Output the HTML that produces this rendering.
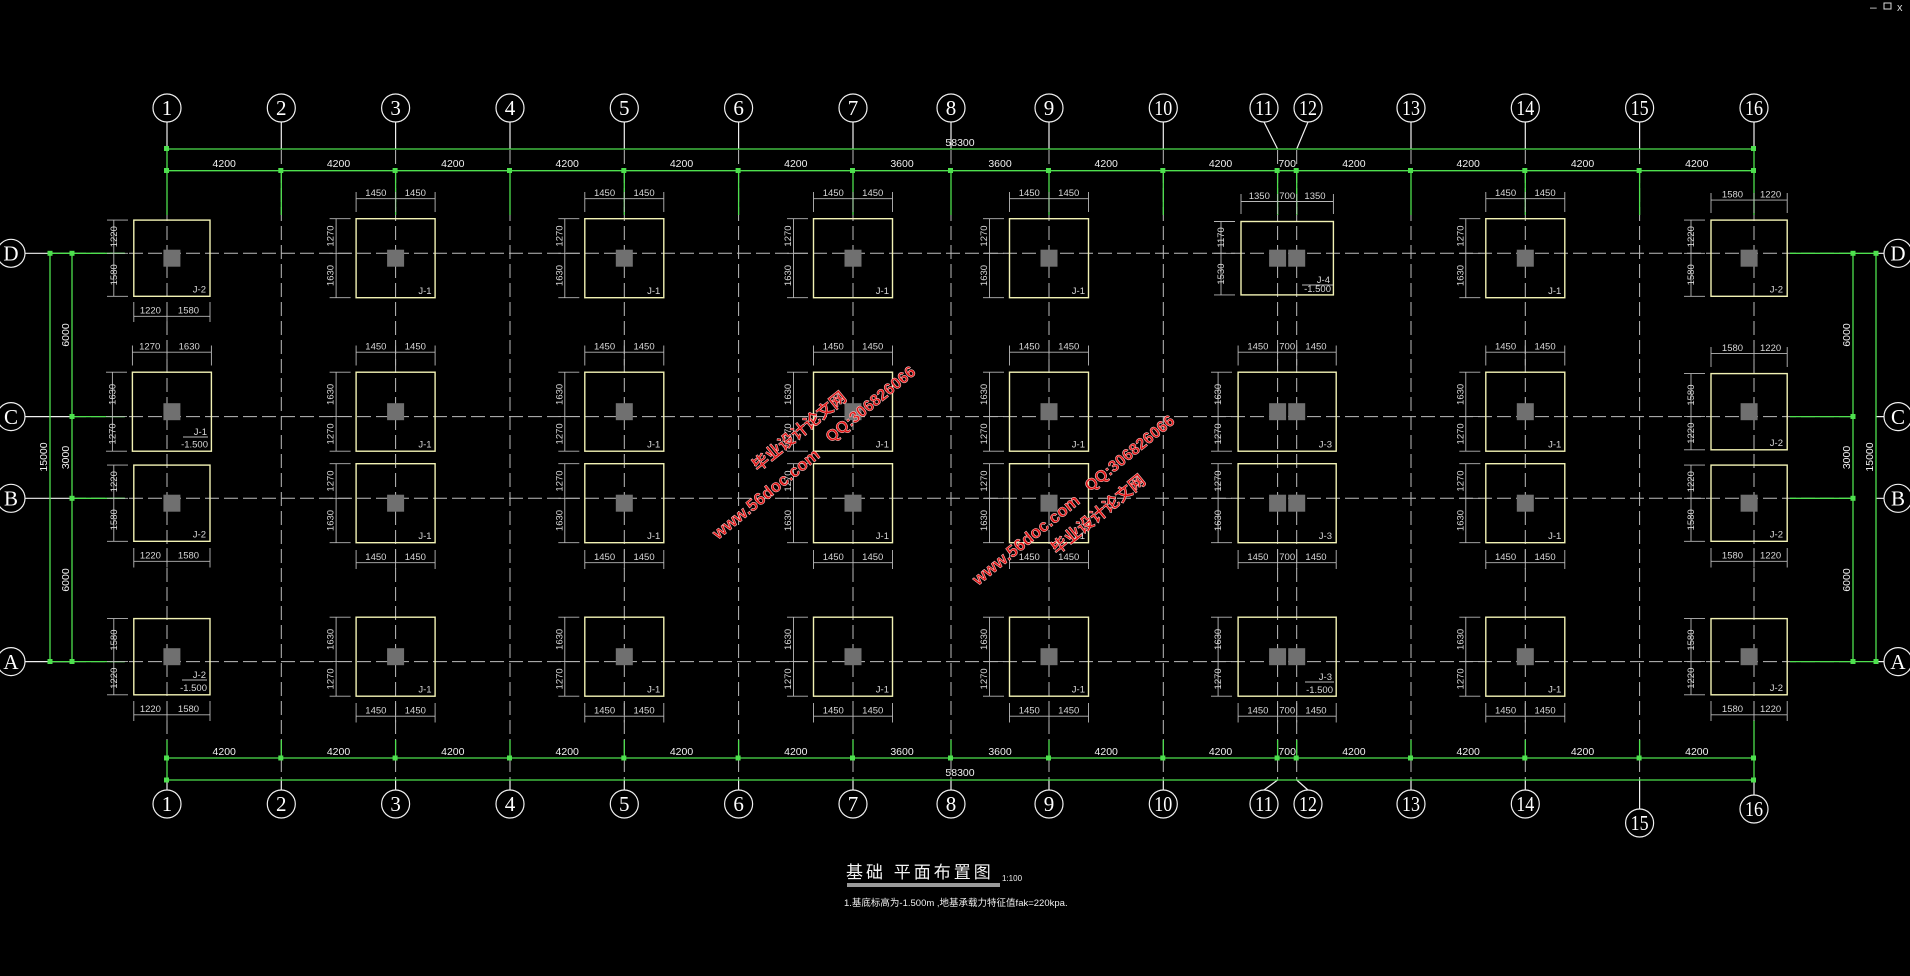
<!DOCTYPE html>
<html><head><meta charset="utf-8">
<style>
html,body{margin:0;padding:0;background:#000;width:1910px;height:976px;overflow:hidden}
svg{display:block}
.f{fill:none;stroke:#f2f2b4;stroke-width:1.4}
.c{fill:#707070}
.d{fill:none;stroke:#b8b8b8;stroke-width:0.9}
.t{fill:#d8d8d8;font-family:"Liberation Sans",sans-serif;font-size:9.5px;text-anchor:middle}
.l{fill:#d8d8d8;font-family:"Liberation Sans",sans-serif;font-size:9.5px;text-anchor:end}
.g{fill:none;stroke:#4ee04e;stroke-width:1.3}
.w{fill:none;stroke:#f0f0f0;stroke-width:1.2}
.dash{fill:none;stroke:#bdbdbd;stroke-width:1;stroke-dasharray:14 5}
.ax{fill:none;stroke:#f0f0f0;stroke-width:1.2}
.at{fill:#fff;font-family:"Liberation Serif",serif;font-size:21px;text-anchor:middle}
.dt{fill:#f0f0f0;font-family:"Liberation Sans",sans-serif;font-size:10.5px;text-anchor:middle}
.wm{fill:#e01515;stroke:#ffd0d0;stroke-width:0.5;font-family:"Liberation Sans","Noto Sans CJK SC",sans-serif;font-weight:bold}
</style></head><body>
<svg width="1910" height="976" viewBox="0 0 1910 976" xmlns="http://www.w3.org/2000/svg">
<!-- window icons -->
<text x="1870" y="11" fill="#ddd" font-size="12" font-family="Liberation Sans,sans-serif">–</text>
<rect x="1884" y="3" width="7" height="6" fill="none" stroke="#ddd" stroke-width="1"/>
<text x="1897" y="11" fill="#ddd" font-size="11" font-family="Liberation Sans,sans-serif">x</text>

<!-- vertical axis dashed lines -->
<path class="dash" d="M167 150V780M281.3 150V780M395.6 150V780M510 150V780M624.3 150V780M738.6 150V780M853 150V780M951 150V780M1049 150V780M1163.3 150V780M1277.6 150V780M1296.7 150V780M1411 150V780M1525.3 150V780M1639.6 150V780M1754 150V780"/>
<!-- horizontal axis dashed lines -->
<path class="dash" d="M72 253.3H1853M72 416.6H1853M72 498.3H1853M72 661.6H1853"/>

<!-- white leaders top/bottom -->
<path class="w" d="M167 122V149M281.3 122V149M395.6 122V149M510 122V149M624.3 122V149M738.6 122V149M853 122V149M951 122V149M1049 122V149M1163.3 122V149M1264 122L1277.6 149M1308 122L1296.7 149M1411 122V149M1525.3 122V149M1639.6 122V149M1754 122V149"/>
<path class="w" d="M167 780V790M281.3 780V790M395.6 780V790M510 780V790M624.3 780V790M738.6 780V790M853 780V790M951 780V790M1049 780V790M1163.3 780V790M1277.6 780L1264 790M1296.7 780L1308 790M1411 780V790M1525.3 780V790M1639.6 780V809M1754 780V795"/>
<path class="w" d="M25 253.3H72M25 416.6H72M25 498.3H72M25 661.6H72M1876 253.3H1884M1876 416.6H1884M1876 498.3H1884M1876 661.6H1884"/>

<!-- green extension lines vertical -->
<path class="g" d="M167 149V215M281.3 171V215M395.6 171V215M510 171V215M624.3 171V215M738.6 171V215M853 171V215M951 171V215M1049 171V215M1163.3 171V215M1277.6 171V215M1296.7 171V215M1411 171V215M1525.3 171V215M1639.6 171V215M1754 149V215"/>
<path class="g" d="M167 740V780M281.3 740V758M395.6 740V758M510 740V758M624.3 740V758M738.6 740V758M853 740V758M951 740V758M1049 740V758M1163.3 740V758M1277.6 740V758M1296.7 740V758M1411 740V758M1525.3 740V758M1639.6 740V758M1754 720V780"/>
<!-- green horizontal dims -->
<path class="g" d="M167 149H1754M167 170.7H1754M167 758H1754M167 780H1754"/>
<path class="g" d="M50 253.3V661.6M72 253.3V661.6M50 253.3H125M72 416.6H125M72 498.3H125M50 661.6H125"/>
<path class="g" d="M1853 253.3V661.6M1876 253.3V661.6M1790 253.3H1876M1790 416.6H1853M1790 498.3H1853M1790 661.6H1876"/>
<!-- green ticks -->
<g fill="#4ee04e">
<rect x="164" y="146" width="5" height="5"/><rect x="1751" y="146" width="5" height="5"/>
<rect x="164" y="168" width="5" height="5"/><rect x="278.3" y="168" width="5" height="5"/><rect x="392.6" y="168" width="5" height="5"/><rect x="507" y="168" width="5" height="5"/><rect x="621.3" y="168" width="5" height="5"/><rect x="735.6" y="168" width="5" height="5"/><rect x="850" y="168" width="5" height="5"/><rect x="948" y="168" width="5" height="5"/><rect x="1046" y="168" width="5" height="5"/><rect x="1160.3" y="168" width="5" height="5"/><rect x="1274.6" y="168" width="5" height="5"/><rect x="1293.7" y="168" width="5" height="5"/><rect x="1408" y="168" width="5" height="5"/><rect x="1522.3" y="168" width="5" height="5"/><rect x="1636.6" y="168" width="5" height="5"/><rect x="1751" y="168" width="5" height="5"/>
<rect x="164" y="755.5" width="5" height="5"/><rect x="278.3" y="755.5" width="5" height="5"/><rect x="392.6" y="755.5" width="5" height="5"/><rect x="507" y="755.5" width="5" height="5"/><rect x="621.3" y="755.5" width="5" height="5"/><rect x="735.6" y="755.5" width="5" height="5"/><rect x="850" y="755.5" width="5" height="5"/><rect x="948" y="755.5" width="5" height="5"/><rect x="1046" y="755.5" width="5" height="5"/><rect x="1160.3" y="755.5" width="5" height="5"/><rect x="1274.6" y="755.5" width="5" height="5"/><rect x="1293.7" y="755.5" width="5" height="5"/><rect x="1408" y="755.5" width="5" height="5"/><rect x="1522.3" y="755.5" width="5" height="5"/><rect x="1636.6" y="755.5" width="5" height="5"/><rect x="1751" y="755.5" width="5" height="5"/>
<rect x="164" y="777.5" width="5" height="5"/><rect x="1751" y="777.5" width="5" height="5"/>
<rect x="47.5" y="250.8" width="5" height="5"/><rect x="47.5" y="659" width="5" height="5"/>
<rect x="69.5" y="250.8" width="5" height="5"/><rect x="69.5" y="414" width="5" height="5"/><rect x="69.5" y="495.8" width="5" height="5"/><rect x="69.5" y="659" width="5" height="5"/>
<rect x="1850.5" y="250.8" width="5" height="5"/><rect x="1850.5" y="414" width="5" height="5"/><rect x="1850.5" y="495.8" width="5" height="5"/><rect x="1850.5" y="659" width="5" height="5"/>
<rect x="1873.5" y="250.8" width="5" height="5"/><rect x="1873.5" y="659" width="5" height="5"/>
</g>

<!-- dimension texts -->
<text class="dt" x="960" y="146">58300</text>
<g class="dt">
<text x="224.2" y="167">4200</text><text x="338.5" y="167">4200</text><text x="452.8" y="167">4200</text><text x="567.2" y="167">4200</text><text x="681.5" y="167">4200</text><text x="795.8" y="167">4200</text><text x="902" y="167">3600</text><text x="1000" y="167">3600</text><text x="1106.2" y="167">4200</text><text x="1220.5" y="167">4200</text><text x="1287.2" y="167">700</text><text x="1353.9" y="167">4200</text><text x="1468.2" y="167">4200</text><text x="1582.5" y="167">4200</text><text x="1696.8" y="167">4200</text>
<text x="224.2" y="755">4200</text><text x="338.5" y="755">4200</text><text x="452.8" y="755">4200</text><text x="567.2" y="755">4200</text><text x="681.5" y="755">4200</text><text x="795.8" y="755">4200</text><text x="902" y="755">3600</text><text x="1000" y="755">3600</text><text x="1106.2" y="755">4200</text><text x="1220.5" y="755">4200</text><text x="1287.2" y="755">700</text><text x="1353.9" y="755">4200</text><text x="1468.2" y="755">4200</text><text x="1582.5" y="755">4200</text><text x="1696.8" y="755">4200</text>
</g>
<text class="dt" x="960" y="776">58300</text>
<g class="dt">
<text transform="translate(47,457) rotate(-90)">15000</text>
<text transform="translate(69,335) rotate(-90)">6000</text>
<text transform="translate(69,457.5) rotate(-90)">3000</text>
<text transform="translate(69,580) rotate(-90)">6000</text>
<text transform="translate(1873,457) rotate(-90)">15000</text>
<text transform="translate(1850,335) rotate(-90)">6000</text>
<text transform="translate(1850,457.5) rotate(-90)">3000</text>
<text transform="translate(1850,580) rotate(-90)">6000</text>
</g>

<!-- axis circles -->
<g class="ax">
<circle cx="167" cy="108" r="14"/><circle cx="281.3" cy="108" r="14"/><circle cx="395.6" cy="108" r="14"/><circle cx="510" cy="108" r="14"/><circle cx="624.3" cy="108" r="14"/><circle cx="738.6" cy="108" r="14"/><circle cx="853" cy="108" r="14"/><circle cx="951" cy="108" r="14"/><circle cx="1049" cy="108" r="14"/><circle cx="1163.3" cy="108" r="14"/><circle cx="1264" cy="108" r="14"/><circle cx="1308" cy="108" r="14"/><circle cx="1411" cy="108" r="14"/><circle cx="1525.3" cy="108" r="14"/><circle cx="1639.6" cy="108" r="14"/><circle cx="1754" cy="108" r="14"/>
<circle cx="167" cy="804" r="14"/><circle cx="281.3" cy="804" r="14"/><circle cx="395.6" cy="804" r="14"/><circle cx="510" cy="804" r="14"/><circle cx="624.3" cy="804" r="14"/><circle cx="738.6" cy="804" r="14"/><circle cx="853" cy="804" r="14"/><circle cx="951" cy="804" r="14"/><circle cx="1049" cy="804" r="14"/><circle cx="1163.3" cy="804" r="14"/><circle cx="1264" cy="804" r="14"/><circle cx="1308" cy="804" r="14"/><circle cx="1411" cy="804" r="14"/><circle cx="1525.3" cy="804" r="14"/><circle cx="1639.6" cy="823" r="14"/><circle cx="1754" cy="809" r="14"/>
<circle cx="11" cy="253.3" r="14"/><circle cx="11" cy="416.6" r="14"/><circle cx="11" cy="498.3" r="14"/><circle cx="11" cy="661.6" r="14"/>
<circle cx="1898" cy="253.3" r="14"/><circle cx="1898" cy="416.6" r="14"/><circle cx="1898" cy="498.3" r="14"/><circle cx="1898" cy="661.6" r="14"/>
</g>
<g class="at">
<text x="167" y="115">1</text><text x="281.3" y="115">2</text><text x="395.6" y="115">3</text><text x="510" y="115">4</text><text x="624.3" y="115">5</text><text x="738.6" y="115">6</text><text x="853" y="115">7</text><text x="951" y="115">8</text><text x="1049" y="115">9</text><text x="1163.3" y="115" textLength="18" lengthAdjust="spacingAndGlyphs">10</text><text x="1264" y="115" textLength="18" lengthAdjust="spacingAndGlyphs">11</text><text x="1308" y="115" textLength="18" lengthAdjust="spacingAndGlyphs">12</text><text x="1411" y="115" textLength="18" lengthAdjust="spacingAndGlyphs">13</text><text x="1525.3" y="115" textLength="18" lengthAdjust="spacingAndGlyphs">14</text><text x="1639.6" y="115" textLength="18" lengthAdjust="spacingAndGlyphs">15</text><text x="1754" y="115" textLength="18" lengthAdjust="spacingAndGlyphs">16</text>
<text x="167" y="811">1</text><text x="281.3" y="811">2</text><text x="395.6" y="811">3</text><text x="510" y="811">4</text><text x="624.3" y="811">5</text><text x="738.6" y="811">6</text><text x="853" y="811">7</text><text x="951" y="811">8</text><text x="1049" y="811">9</text><text x="1163.3" y="811" textLength="18" lengthAdjust="spacingAndGlyphs">10</text><text x="1264" y="811" textLength="18" lengthAdjust="spacingAndGlyphs">11</text><text x="1308" y="811" textLength="18" lengthAdjust="spacingAndGlyphs">12</text><text x="1411" y="811" textLength="18" lengthAdjust="spacingAndGlyphs">13</text><text x="1525.3" y="811" textLength="18" lengthAdjust="spacingAndGlyphs">14</text><text x="1639.6" y="830" textLength="18" lengthAdjust="spacingAndGlyphs">15</text><text x="1754" y="816" textLength="18" lengthAdjust="spacingAndGlyphs">16</text>
<text x="11" y="260.5">D</text><text x="11" y="423.8">C</text><text x="11" y="505.5">B</text><text x="11" y="668.8">A</text>
<text x="1898" y="260.5">D</text><text x="1898" y="423.8">C</text><text x="1898" y="505.5">B</text><text x="1898" y="668.8">A</text>
</g>

<!-- standard footing columns -->
<g id="s3" transform="translate(395.6,0)">
<rect class="f" x="-39.5" y="218.7" width="79" height="79"/><rect class="c" x="-8.5" y="249.7" width="17" height="17"/>
<path class="d" d="M-39.5 198.7H39.5M-39.5 192V212M0 192V212M39.5 192V212M-59.5 218.7V297.7M-66 218.7H-45M-66 253.3H-45M-66 297.7H-45"/>
<text class="t" x="-19.75" y="196">1450</text><text class="t" x="19.75" y="196">1450</text>
<text class="t" transform="translate(-62,236) rotate(-90)">1270</text><text class="t" transform="translate(-62,275.5) rotate(-90)">1630</text>
<text class="l" x="36" y="294">J-1</text>
<rect class="f" x="-39.5" y="372.2" width="79" height="79"/><rect class="c" x="-8.5" y="403.2" width="17" height="17"/>
<path class="d" d="M-39.5 352.2H39.5M-39.5 345.5V365.5M0 345.5V365.5M39.5 345.5V365.5M-59.5 372.2V451.2M-66 372.2H-45M-66 416.6H-45M-66 451.2H-45"/>
<text class="t" x="-19.75" y="349.5">1450</text><text class="t" x="19.75" y="349.5">1450</text>
<text class="t" transform="translate(-62,394.4) rotate(-90)">1630</text><text class="t" transform="translate(-62,433.9) rotate(-90)">1270</text>
<text class="l" x="36" y="447.5">J-1</text>
<rect class="f" x="-39.5" y="463.7" width="79" height="79"/><rect class="c" x="-8.5" y="494.7" width="17" height="17"/>
<path class="d" d="M-39.5 562.7H39.5M-39.5 550V569M0 550V569M39.5 550V569M-59.5 463.7V542.7M-66 463.7H-45M-66 498.3H-45M-66 542.7H-45"/>
<text class="t" x="-19.75" y="560">1450</text><text class="t" x="19.75" y="560">1450</text>
<text class="t" transform="translate(-62,481) rotate(-90)">1270</text><text class="t" transform="translate(-62,520.5) rotate(-90)">1630</text>
<text class="l" x="36" y="539">J-1</text>
<rect class="f" x="-39.5" y="617.2" width="79" height="79"/><rect class="c" x="-8.5" y="648.2" width="17" height="17"/>
<path class="d" d="M-39.5 716.2H39.5M-39.5 703V722.5M0 703V722.5M39.5 703V722.5M-59.5 617.2V696.2M-66 617.2H-45M-66 661.6H-45M-66 696.2H-45"/>
<text class="t" x="-19.75" y="713.5">1450</text><text class="t" x="19.75" y="713.5">1450</text>
<text class="t" transform="translate(-62,639.4) rotate(-90)">1630</text><text class="t" transform="translate(-62,678.9) rotate(-90)">1270</text>
<text class="l" x="36" y="692.5">J-1</text>
</g>
<g transform="translate(624.3,0)">
<rect class="f" x="-39.5" y="218.7" width="79" height="79"/><rect class="c" x="-8.5" y="249.7" width="17" height="17"/>
<path class="d" d="M-39.5 198.7H39.5M-39.5 192V212M0 192V212M39.5 192V212M-59.5 218.7V297.7M-66 218.7H-45M-66 253.3H-45M-66 297.7H-45"/>
<text class="t" x="-19.75" y="196">1450</text><text class="t" x="19.75" y="196">1450</text>
<text class="t" transform="translate(-62,236) rotate(-90)">1270</text><text class="t" transform="translate(-62,275.5) rotate(-90)">1630</text>
<text class="l" x="36" y="294">J-1</text>
<rect class="f" x="-39.5" y="372.2" width="79" height="79"/><rect class="c" x="-8.5" y="403.2" width="17" height="17"/>
<path class="d" d="M-39.5 352.2H39.5M-39.5 345.5V365.5M0 345.5V365.5M39.5 345.5V365.5M-59.5 372.2V451.2M-66 372.2H-45M-66 416.6H-45M-66 451.2H-45"/>
<text class="t" x="-19.75" y="349.5">1450</text><text class="t" x="19.75" y="349.5">1450</text>
<text class="t" transform="translate(-62,394.4) rotate(-90)">1630</text><text class="t" transform="translate(-62,433.9) rotate(-90)">1270</text>
<text class="l" x="36" y="447.5">J-1</text>
<rect class="f" x="-39.5" y="463.7" width="79" height="79"/><rect class="c" x="-8.5" y="494.7" width="17" height="17"/>
<path class="d" d="M-39.5 562.7H39.5M-39.5 550V569M0 550V569M39.5 550V569M-59.5 463.7V542.7M-66 463.7H-45M-66 498.3H-45M-66 542.7H-45"/>
<text class="t" x="-19.75" y="560">1450</text><text class="t" x="19.75" y="560">1450</text>
<text class="t" transform="translate(-62,481) rotate(-90)">1270</text><text class="t" transform="translate(-62,520.5) rotate(-90)">1630</text>
<text class="l" x="36" y="539">J-1</text>
<rect class="f" x="-39.5" y="617.2" width="79" height="79"/><rect class="c" x="-8.5" y="648.2" width="17" height="17"/>
<path class="d" d="M-39.5 716.2H39.5M-39.5 703V722.5M0 703V722.5M39.5 703V722.5M-59.5 617.2V696.2M-66 617.2H-45M-66 661.6H-45M-66 696.2H-45"/>
<text class="t" x="-19.75" y="713.5">1450</text><text class="t" x="19.75" y="713.5">1450</text>
<text class="t" transform="translate(-62,639.4) rotate(-90)">1630</text><text class="t" transform="translate(-62,678.9) rotate(-90)">1270</text>
<text class="l" x="36" y="692.5">J-1</text>
</g>
<g transform="translate(853,0)">
<rect class="f" x="-39.5" y="218.7" width="79" height="79"/><rect class="c" x="-8.5" y="249.7" width="17" height="17"/>
<path class="d" d="M-39.5 198.7H39.5M-39.5 192V212M0 192V212M39.5 192V212M-59.5 218.7V297.7M-66 218.7H-45M-66 253.3H-45M-66 297.7H-45"/>
<text class="t" x="-19.75" y="196">1450</text><text class="t" x="19.75" y="196">1450</text>
<text class="t" transform="translate(-62,236) rotate(-90)">1270</text><text class="t" transform="translate(-62,275.5) rotate(-90)">1630</text>
<text class="l" x="36" y="294">J-1</text>
<rect class="f" x="-39.5" y="372.2" width="79" height="79"/><rect class="c" x="-8.5" y="403.2" width="17" height="17"/>
<path class="d" d="M-39.5 352.2H39.5M-39.5 345.5V365.5M0 345.5V365.5M39.5 345.5V365.5M-59.5 372.2V451.2M-66 372.2H-45M-66 416.6H-45M-66 451.2H-45"/>
<text class="t" x="-19.75" y="349.5">1450</text><text class="t" x="19.75" y="349.5">1450</text>
<text class="t" transform="translate(-62,394.4) rotate(-90)">1630</text><text class="t" transform="translate(-62,433.9) rotate(-90)">1270</text>
<text class="l" x="36" y="447.5">J-1</text>
<rect class="f" x="-39.5" y="463.7" width="79" height="79"/><rect class="c" x="-8.5" y="494.7" width="17" height="17"/>
<path class="d" d="M-39.5 562.7H39.5M-39.5 550V569M0 550V569M39.5 550V569M-59.5 463.7V542.7M-66 463.7H-45M-66 498.3H-45M-66 542.7H-45"/>
<text class="t" x="-19.75" y="560">1450</text><text class="t" x="19.75" y="560">1450</text>
<text class="t" transform="translate(-62,481) rotate(-90)">1270</text><text class="t" transform="translate(-62,520.5) rotate(-90)">1630</text>
<text class="l" x="36" y="539">J-1</text>
<rect class="f" x="-39.5" y="617.2" width="79" height="79"/><rect class="c" x="-8.5" y="648.2" width="17" height="17"/>
<path class="d" d="M-39.5 716.2H39.5M-39.5 703V722.5M0 703V722.5M39.5 703V722.5M-59.5 617.2V696.2M-66 617.2H-45M-66 661.6H-45M-66 696.2H-45"/>
<text class="t" x="-19.75" y="713.5">1450</text><text class="t" x="19.75" y="713.5">1450</text>
<text class="t" transform="translate(-62,639.4) rotate(-90)">1630</text><text class="t" transform="translate(-62,678.9) rotate(-90)">1270</text>
<text class="l" x="36" y="692.5">J-1</text>
</g>
<g transform="translate(1049,0)">
<rect class="f" x="-39.5" y="218.7" width="79" height="79"/><rect class="c" x="-8.5" y="249.7" width="17" height="17"/>
<path class="d" d="M-39.5 198.7H39.5M-39.5 192V212M0 192V212M39.5 192V212M-59.5 218.7V297.7M-66 218.7H-45M-66 253.3H-45M-66 297.7H-45"/>
<text class="t" x="-19.75" y="196">1450</text><text class="t" x="19.75" y="196">1450</text>
<text class="t" transform="translate(-62,236) rotate(-90)">1270</text><text class="t" transform="translate(-62,275.5) rotate(-90)">1630</text>
<text class="l" x="36" y="294">J-1</text>
<rect class="f" x="-39.5" y="372.2" width="79" height="79"/><rect class="c" x="-8.5" y="403.2" width="17" height="17"/>
<path class="d" d="M-39.5 352.2H39.5M-39.5 345.5V365.5M0 345.5V365.5M39.5 345.5V365.5M-59.5 372.2V451.2M-66 372.2H-45M-66 416.6H-45M-66 451.2H-45"/>
<text class="t" x="-19.75" y="349.5">1450</text><text class="t" x="19.75" y="349.5">1450</text>
<text class="t" transform="translate(-62,394.4) rotate(-90)">1630</text><text class="t" transform="translate(-62,433.9) rotate(-90)">1270</text>
<text class="l" x="36" y="447.5">J-1</text>
<rect class="f" x="-39.5" y="463.7" width="79" height="79"/><rect class="c" x="-8.5" y="494.7" width="17" height="17"/>
<path class="d" d="M-39.5 562.7H39.5M-39.5 550V569M0 550V569M39.5 550V569M-59.5 463.7V542.7M-66 463.7H-45M-66 498.3H-45M-66 542.7H-45"/>
<text class="t" x="-19.75" y="560">1450</text><text class="t" x="19.75" y="560">1450</text>
<text class="t" transform="translate(-62,481) rotate(-90)">1270</text><text class="t" transform="translate(-62,520.5) rotate(-90)">1630</text>
<text class="l" x="36" y="539">J-1</text>
<rect class="f" x="-39.5" y="617.2" width="79" height="79"/><rect class="c" x="-8.5" y="648.2" width="17" height="17"/>
<path class="d" d="M-39.5 716.2H39.5M-39.5 703V722.5M0 703V722.5M39.5 703V722.5M-59.5 617.2V696.2M-66 617.2H-45M-66 661.6H-45M-66 696.2H-45"/>
<text class="t" x="-19.75" y="713.5">1450</text><text class="t" x="19.75" y="713.5">1450</text>
<text class="t" transform="translate(-62,639.4) rotate(-90)">1630</text><text class="t" transform="translate(-62,678.9) rotate(-90)">1270</text>
<text class="l" x="36" y="692.5">J-1</text>
</g>
<g transform="translate(1525.3,0)">
<rect class="f" x="-39.5" y="218.7" width="79" height="79"/><rect class="c" x="-8.5" y="249.7" width="17" height="17"/>
<path class="d" d="M-39.5 198.7H39.5M-39.5 192V212M0 192V212M39.5 192V212M-59.5 218.7V297.7M-66 218.7H-45M-66 253.3H-45M-66 297.7H-45"/>
<text class="t" x="-19.75" y="196">1450</text><text class="t" x="19.75" y="196">1450</text>
<text class="t" transform="translate(-62,236) rotate(-90)">1270</text><text class="t" transform="translate(-62,275.5) rotate(-90)">1630</text>
<text class="l" x="36" y="294">J-1</text>
<rect class="f" x="-39.5" y="372.2" width="79" height="79"/><rect class="c" x="-8.5" y="403.2" width="17" height="17"/>
<path class="d" d="M-39.5 352.2H39.5M-39.5 345.5V365.5M0 345.5V365.5M39.5 345.5V365.5M-59.5 372.2V451.2M-66 372.2H-45M-66 416.6H-45M-66 451.2H-45"/>
<text class="t" x="-19.75" y="349.5">1450</text><text class="t" x="19.75" y="349.5">1450</text>
<text class="t" transform="translate(-62,394.4) rotate(-90)">1630</text><text class="t" transform="translate(-62,433.9) rotate(-90)">1270</text>
<text class="l" x="36" y="447.5">J-1</text>
<rect class="f" x="-39.5" y="463.7" width="79" height="79"/><rect class="c" x="-8.5" y="494.7" width="17" height="17"/>
<path class="d" d="M-39.5 562.7H39.5M-39.5 550V569M0 550V569M39.5 550V569M-59.5 463.7V542.7M-66 463.7H-45M-66 498.3H-45M-66 542.7H-45"/>
<text class="t" x="-19.75" y="560">1450</text><text class="t" x="19.75" y="560">1450</text>
<text class="t" transform="translate(-62,481) rotate(-90)">1270</text><text class="t" transform="translate(-62,520.5) rotate(-90)">1630</text>
<text class="l" x="36" y="539">J-1</text>
<rect class="f" x="-39.5" y="617.2" width="79" height="79"/><rect class="c" x="-8.5" y="648.2" width="17" height="17"/>
<path class="d" d="M-39.5 716.2H39.5M-39.5 703V722.5M0 703V722.5M39.5 703V722.5M-59.5 617.2V696.2M-66 617.2H-45M-66 661.6H-45M-66 696.2H-45"/>
<text class="t" x="-19.75" y="713.5">1450</text><text class="t" x="19.75" y="713.5">1450</text>
<text class="t" transform="translate(-62,639.4) rotate(-90)">1630</text><text class="t" transform="translate(-62,678.9) rotate(-90)">1270</text>
<text class="l" x="36" y="692.5">J-1</text>
</g>

<!-- axis 1 footings -->
<rect class="f" x="133.8" y="220.1" width="76.2" height="76.2"/><rect class="c" x="163.4" y="249.7" width="17" height="17"/>
<path class="d" d="M133.8 316.3H210M133.8 302V322M167 302V322M210 302V322M113.8 220.1V296.3M107 220.1H128M107 253.3H128M107 296.3H128"/>
<text class="t" x="150.4" y="313.5">1220</text><text class="t" x="188.5" y="313.5">1580</text>
<text class="t" transform="translate(117,236.7) rotate(-90)">1220</text><text class="t" transform="translate(117,274.8) rotate(-90)">1580</text>
<text class="l" x="206" y="292.5">J-2</text>

<rect class="f" x="132.4" y="372.2" width="79" height="79"/><rect class="c" x="163.4" y="403.2" width="17" height="17"/>
<path class="d" d="M132.4 352.2H211.4M132.4 345.5V365.5M167 345.5V365.5M211.4 345.5V365.5M112.4 372.2V451.2M106 372.2H127M106 416.6H127M106 451.2H127M183 437H208"/>
<text class="t" x="149.7" y="349.5">1270</text><text class="t" x="189.2" y="349.5">1630</text>
<text class="t" transform="translate(115.5,394.4) rotate(-90)">1630</text><text class="t" transform="translate(115.5,433.9) rotate(-90)">1270</text>
<text class="l" x="207" y="435">J-1</text><text class="l" x="208" y="447.5">-1.500</text>

<rect class="f" x="133.8" y="465.1" width="76.2" height="76.2"/><rect class="c" x="163.4" y="494.7" width="17" height="17"/>
<path class="d" d="M133.8 561.3H210M133.8 548V567.5M167 548V567.5M210 548V567.5M113.8 465.1V541.3M107 465.1H128M107 498.3H128M107 541.3H128"/>
<text class="t" x="150.4" y="558.5">1220</text><text class="t" x="188.5" y="558.5">1580</text>
<text class="t" transform="translate(117,481.7) rotate(-90)">1220</text><text class="t" transform="translate(117,519.8) rotate(-90)">1580</text>
<text class="l" x="206" y="537.5">J-2</text>

<rect class="f" x="133.8" y="618.6" width="76.2" height="76.2"/><rect class="c" x="163.4" y="648.2" width="17" height="17"/>
<path class="d" d="M133.8 714.8H210M133.8 701V721M167 701V721M210 701V721M113.8 618.6V694.8M107 618.6H128M107 661.6H128M107 694.8H128M182 680H207"/>
<text class="t" x="150.4" y="712">1220</text><text class="t" x="188.5" y="712">1580</text>
<text class="t" transform="translate(117,640.1) rotate(-90)">1580</text><text class="t" transform="translate(117,678.2) rotate(-90)">1220</text>
<text class="l" x="206" y="678">J-2</text><text class="l" x="207" y="691">-1.500</text>

<!-- axis 16 footings -->
<rect class="f" x="1711" y="220.1" width="76.2" height="76.2"/><rect class="c" x="1740.6" y="249.7" width="17" height="17"/>
<path class="d" d="M1711 200.1H1787.2M1711 193V213M1754 193V213M1787.2 193V213M1691 220.1V296.3M1684 220.1H1705M1684 253.3H1705M1684 296.3H1705"/>
<text class="t" x="1732.5" y="197.5">1580</text><text class="t" x="1770.6" y="197.5">1220</text>
<text class="t" transform="translate(1694,236.7) rotate(-90)">1220</text><text class="t" transform="translate(1694,274.8) rotate(-90)">1580</text>
<text class="l" x="1783" y="292.5">J-2</text>

<rect class="f" x="1711" y="373.6" width="76.2" height="76.2"/><rect class="c" x="1740.6" y="403.2" width="17" height="17"/>
<path class="d" d="M1711 353.6H1787.2M1711 347V367M1754 347V367M1787.2 347V367M1691 373.6V449.8M1684 373.6H1705M1684 416.6H1705M1684 449.8H1705"/>
<text class="t" x="1732.5" y="351">1580</text><text class="t" x="1770.6" y="351">1220</text>
<text class="t" transform="translate(1694,395.1) rotate(-90)">1580</text><text class="t" transform="translate(1694,433.2) rotate(-90)">1220</text>
<text class="l" x="1783" y="446">J-2</text>

<rect class="f" x="1711" y="465.1" width="76.2" height="76.2"/><rect class="c" x="1740.6" y="494.7" width="17" height="17"/>
<path class="d" d="M1711 561.3H1787.2M1711 548V567.5M1754 548V567.5M1787.2 548V567.5M1691 465.1V541.3M1684 465.1H1705M1684 498.3H1705M1684 541.3H1705"/>
<text class="t" x="1732.5" y="558.5">1580</text><text class="t" x="1770.6" y="558.5">1220</text>
<text class="t" transform="translate(1694,481.7) rotate(-90)">1220</text><text class="t" transform="translate(1694,519.8) rotate(-90)">1580</text>
<text class="l" x="1783" y="537.5">J-2</text>

<rect class="f" x="1711" y="618.6" width="76.2" height="76.2"/><rect class="c" x="1740.6" y="648.2" width="17" height="17"/>
<path class="d" d="M1711 714.8H1787.2M1711 701V721M1754 701V721M1787.2 701V721M1691 618.6V694.8M1684 618.6H1705M1684 661.6H1705M1684 694.8H1705"/>
<text class="t" x="1732.5" y="712">1580</text><text class="t" x="1770.6" y="712">1220</text>
<text class="t" transform="translate(1694,640.1) rotate(-90)">1580</text><text class="t" transform="translate(1694,678.2) rotate(-90)">1220</text>
<text class="l" x="1783" y="691">J-2</text>

<!-- axes 11/12 combined footings -->
<rect class="f" x="1241" y="221.5" width="92.4" height="73.4"/><rect class="c" x="1269.1" y="249.7" width="17" height="17"/><rect class="c" x="1288.2" y="249.7" width="17" height="17"/>
<path class="d" d="M1241 201.5H1333.4M1241 194V214M1277.6 194V214M1296.7 194V214M1333.4 194V214M1221 221.5V294.9M1214 221.5H1235M1214 253.3H1235M1214 294.9H1235M1302 285H1333"/>
<text class="t" x="1259.3" y="199">1350</text><text class="t" x="1287.2" y="199">700</text><text class="t" x="1315" y="199">1350</text>
<text class="t" transform="translate(1224,237.4) rotate(-90)">1170</text><text class="t" transform="translate(1224,274.1) rotate(-90)">1530</text>
<text class="l" x="1330" y="283">J-4</text><text class="l" x="1331" y="292">-1.500</text>

<rect class="f" x="1238.1" y="372.2" width="98.1" height="79"/><rect class="c" x="1269.1" y="403.2" width="17" height="17"/><rect class="c" x="1288.2" y="403.2" width="17" height="17"/>
<path class="d" d="M1238.1 352.2H1336.2M1238.1 345.5V365.5M1277.6 345.5V365.5M1296.7 345.5V365.5M1336.2 345.5V365.5M1218.1 372.2V451.2M1211 372.2H1232M1211 416.6H1232M1211 451.2H1232"/>
<text class="t" x="1257.9" y="349.5">1450</text><text class="t" x="1287.2" y="349.5">700</text><text class="t" x="1316" y="349.5">1450</text>
<text class="t" transform="translate(1221,394.4) rotate(-90)">1630</text><text class="t" transform="translate(1221,433.9) rotate(-90)">1270</text>
<text class="l" x="1332" y="447.5">J-3</text>

<rect class="f" x="1238.1" y="463.7" width="98.1" height="79"/><rect class="c" x="1269.1" y="494.7" width="17" height="17"/><rect class="c" x="1288.2" y="494.7" width="17" height="17"/>
<path class="d" d="M1238.1 562.7H1336.2M1238.1 550V569M1277.6 550V569M1296.7 550V569M1336.2 550V569M1218.1 463.7V542.7M1211 463.7H1232M1211 498.3H1232M1211 542.7H1232"/>
<text class="t" x="1257.9" y="560">1450</text><text class="t" x="1287.2" y="560">700</text><text class="t" x="1316" y="560">1450</text>
<text class="t" transform="translate(1221,481) rotate(-90)">1270</text><text class="t" transform="translate(1221,520.5) rotate(-90)">1630</text>
<text class="l" x="1332" y="539">J-3</text>

<rect class="f" x="1238.1" y="617.2" width="98.1" height="79"/><rect class="c" x="1269.1" y="648.2" width="17" height="17"/><rect class="c" x="1288.2" y="648.2" width="17" height="17"/>
<path class="d" d="M1238.1 716.2H1336.2M1238.1 703V722.5M1277.6 703V722.5M1296.7 703V722.5M1336.2 703V722.5M1218.1 617.2V696.2M1211 617.2H1232M1211 661.6H1232M1211 696.2H1232M1305 682H1334"/>
<text class="t" x="1257.9" y="713.5">1450</text><text class="t" x="1287.2" y="713.5">700</text><text class="t" x="1316" y="713.5">1450</text>
<text class="t" transform="translate(1221,639.4) rotate(-90)">1630</text><text class="t" transform="translate(1221,678.9) rotate(-90)">1270</text>
<text class="l" x="1332" y="680">J-3</text><text class="l" x="1333" y="693">-1.500</text>

<!-- watermarks -->
<g class="wm">
<text font-size="17" transform="translate(718,540) rotate(-39)">www.56doc.com</text>
<text font-size="16.5" transform="translate(758,472) rotate(-39)">毕业设计论文网</text>
<text font-size="16" transform="translate(831,443) rotate(-39)">QQ:306826066</text>
<text font-size="17" transform="translate(978,586) rotate(-39)">www.56doc.com</text>
<text font-size="16" transform="translate(1090,492) rotate(-39)">QQ:306826066</text>
<text font-size="16.5" transform="translate(1057,555) rotate(-39)">毕业设计论文网</text>
</g>

<!-- title -->
<text x="846" y="878" fill="#f4f4f4" font-size="17" letter-spacing="3" font-family="Liberation Sans,'Noto Sans CJK SC',sans-serif">基础 平面布置图</text>
<rect x="847" y="883" width="153" height="4" fill="#9a9a9a"/>
<text x="1002" y="881" fill="#eee" font-size="8" font-family="Liberation Sans,sans-serif">1:100</text>
<text x="844" y="906" fill="#f0f0f0" font-size="9.5" font-family="Liberation Sans,'Noto Sans CJK SC',sans-serif">1.基底标高为-1.500m ,地基承载力特征值fak=220kpa.</text>
</svg>
</body></html>
